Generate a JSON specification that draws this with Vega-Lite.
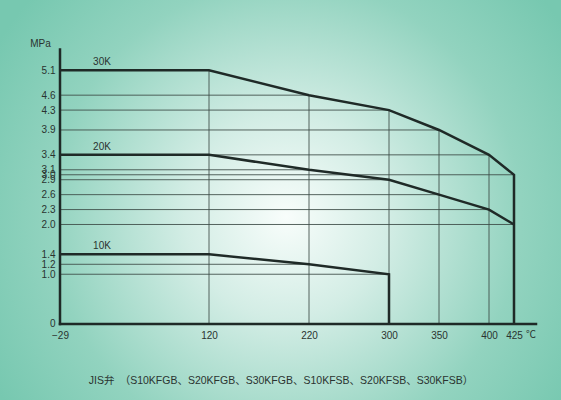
{
  "$schema": "https://vega.github.io/schema/vega-lite/v6.json",
  "width": 561,
  "height": 400,
  "autosize": "none",
  "padding": 0,
  "background": "#78c9b1",
  "config": {
    "view": {
      "stroke": null,
      "fill": {
        "gradient": "radial",
        "x1": 0.51, "y1": 0.53, "r1": 0,
        "x2": 0.51, "y2": 0.53, "r2": 0.6,
        "stops": [
          {"offset": 0, "color": "#f8fdfb"},
          {"offset": 0.3, "color": "#d3ede5"},
          {"offset": 0.7, "color": "#92d3bf"},
          {"offset": 1, "color": "#77c8b0"}
        ]
      }
    },
    "font": "Liberation Sans",
    "axis": {"labelOverlap": false, "labelFlush": false, "labelBound": false}
  },
  "datasets": {
    "curves": [
      {"series": "30K", "i": 0, "t": -29, "p": 5.1},
      {"series": "30K", "i": 1, "t": 120, "p": 5.1},
      {"series": "30K", "i": 2, "t": 220, "p": 4.6},
      {"series": "30K", "i": 3, "t": 300, "p": 4.3},
      {"series": "30K", "i": 4, "t": 350, "p": 3.9},
      {"series": "30K", "i": 5, "t": 400, "p": 3.4},
      {"series": "30K", "i": 6, "t": 425, "p": 3.0},
      {"series": "30K", "i": 7, "t": 425, "p": 0},
      {"series": "20K", "i": 0, "t": -29, "p": 3.4},
      {"series": "20K", "i": 1, "t": 120, "p": 3.4},
      {"series": "20K", "i": 2, "t": 220, "p": 3.1},
      {"series": "20K", "i": 3, "t": 300, "p": 2.9},
      {"series": "20K", "i": 4, "t": 350, "p": 2.6},
      {"series": "20K", "i": 5, "t": 400, "p": 2.3},
      {"series": "20K", "i": 6, "t": 425, "p": 2.0},
      {"series": "10K", "i": 0, "t": -29, "p": 1.4},
      {"series": "10K", "i": 1, "t": 120, "p": 1.4},
      {"series": "10K", "i": 2, "t": 220, "p": 1.2},
      {"series": "10K", "i": 3, "t": 300, "p": 1.0},
      {"series": "10K", "i": 4, "t": 300, "p": 0}
    ],
    "grid": [
      {"t": -29, "t2": 220, "p": 4.6, "p2": 4.6},
      {"t": -29, "t2": 300, "p": 4.3, "p2": 4.3},
      {"t": -29, "t2": 350, "p": 3.9, "p2": 3.9},
      {"t": -29, "t2": 400, "p": 3.4, "p2": 3.4},
      {"t": -29, "t2": 220, "p": 3.1, "p2": 3.1},
      {"t": -29, "t2": 425, "p": 3.0, "p2": 3.0},
      {"t": -29, "t2": 300, "p": 2.9, "p2": 2.9},
      {"t": -29, "t2": 350, "p": 2.6, "p2": 2.6},
      {"t": -29, "t2": 400, "p": 2.3, "p2": 2.3},
      {"t": -29, "t2": 425, "p": 2.0, "p2": 2.0},
      {"t": -29, "t2": 220, "p": 1.2, "p2": 1.2},
      {"t": -29, "t2": 300, "p": 1.0, "p2": 1.0},
      {"t": 120, "t2": 120, "p": 0, "p2": 5.1},
      {"t": 220, "t2": 220, "p": 0, "p2": 4.6},
      {"t": 300, "t2": 300, "p": 0, "p2": 4.3},
      {"t": 350, "t2": 350, "p": 0, "p2": 3.9},
      {"t": 400, "t2": 400, "p": 0, "p2": 3.4}
    ],
    "axes": [
      {"t": -29, "t2": -29, "p": 0, "p2": 5.52},
      {"t": -29, "t2": 447, "p": 0, "p2": 0}
    ],
    "unit": [
      {"t": 425, "p": 0, "text": "℃"}
    ]
  },
  "encoding": {
    "x": {
      "field": "t", "type": "quantitative",
      "scale": {"domain": [-89, 472], "nice": false, "zero": false},
      "axis": {
        "orient": "bottom", "offset": -76, "domain": false, "ticks": false, "grid": false,
        "values": [-29, 120, 220, 300, 350, 400, 425],
        "labelPadding": 6, "labelFontSize": 10, "labelColor": "#2a3330",
        "labelFont": "Liberation Sans", "labelOverlap": false, "labelFlush": false, "labelBound": false,
        "title": "JIS弁　（S10KFGB、S20KFGB、S30KFGB、S10KFSB、S20KFSB、S30KFSB）",
        "titleFont": "Liberation Sans, Noto Sans CJK JP", "titleFontSize": 10.5,
        "titleFontWeight": "normal", "titleColor": "#2a3330", "titlePadding": 35
      }
    },
    "y": {
      "field": "p", "type": "quantitative",
      "scale": {"domain": [-1.528, 6.513], "nice": false, "zero": false},
      "axis": {
        "orient": "left", "offset": -60, "domain": false, "ticks": false, "grid": false,
        "values": [0, 1.0, 1.2, 1.4, 2.0, 2.3, 2.6, 2.9, 3.0, 3.1, 3.4, 3.9, 4.3, 4.6, 5.1],
        "labelExpr": "datum.value == 0 ? '0' : format(datum.value, '.1f')",
        "labelPadding": 5, "labelFontSize": 10, "labelColor": "#2a3330",
        "labelOverlap": false, "labelFlush": false, "labelBound": false,
        "title": "MPa", "titleAngle": 0, "titleX": -20, "titleY": 43,
        "titleAlign": "center", "titleBaseline": "middle",
        "titleFontSize": 10, "titleFontWeight": "normal", "titleColor": "#2a3330"
      }
    }
  },
  "layer": [
    {
      "data": {"name": "grid"},
      "mark": {"type": "rule", "color": "#3c4a45", "strokeWidth": 1, "opacity": 0.85},
      "encoding": {
        "x2": {"field": "t2"},
        "y2": {"field": "p2"}
      }
    },
    {
      "data": {"name": "axes"},
      "mark": {"type": "rule", "color": "#1f2a27", "strokeWidth": 2.5, "strokeCap": "square"},
      "encoding": {
        "x2": {"field": "t2"},
        "y2": {"field": "p2"}
      }
    },
    {
      "data": {"name": "curves"},
      "mark": {"type": "line", "color": "#1f2a27", "strokeWidth": 2.5, "strokeJoin": "miter"},
      "encoding": {
        "detail": {"field": "series"},
        "order": {"field": "i", "type": "quantitative"}
      }
    },
    {
      "data": {"name": "curves"},
      "transform": [{"filter": "datum.i == 0"}],
      "mark": {"type": "text", "align": "center", "baseline": "middle", "dx": 42, "dy": -8, "fontSize": 10, "color": "#2a3330"},
      "encoding": {
        "text": {"field": "series"}
      }
    },
    {
      "data": {"name": "unit"},
      "mark": {"type": "text", "align": "center", "baseline": "middle", "dx": 17, "dy": 11, "fontSize": 10, "color": "#2a3330", "font": "Liberation Sans, Noto Sans CJK JP"},
      "encoding": {
        "text": {"field": "text"}
      }
    }
  ]
}
